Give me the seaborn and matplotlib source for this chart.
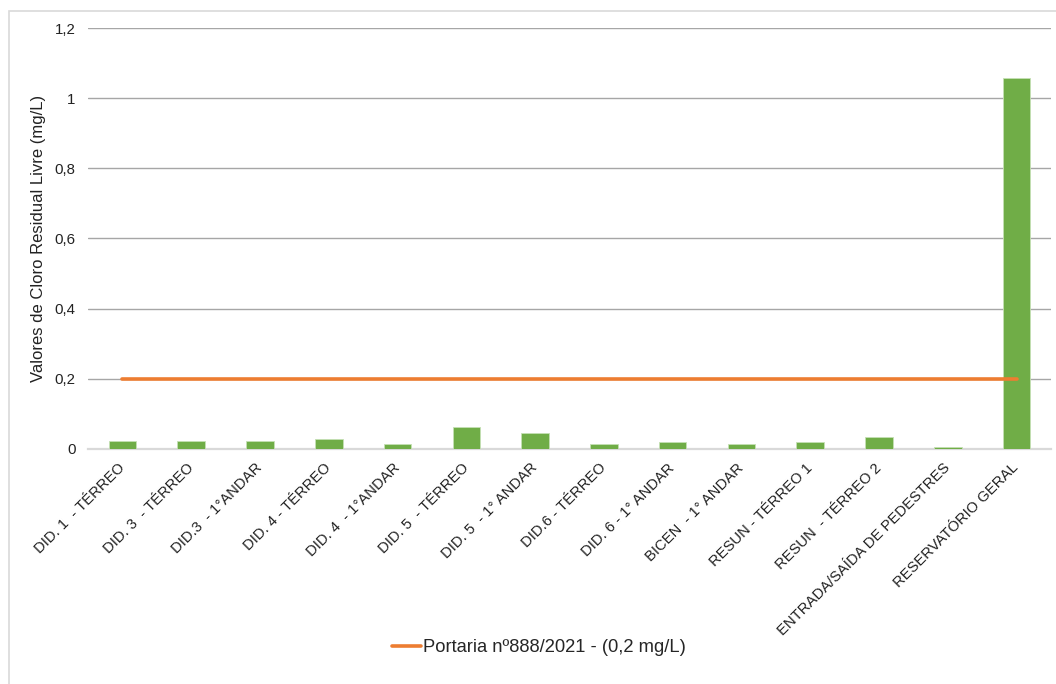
import numpy as np
import pandas as pd
import matplotlib
matplotlib.use("Agg")
import matplotlib.pyplot as plt
import seaborn as sns
from matplotlib.patches import Rectangle
from matplotlib.lines import Line2D

categories = [
    "DID. 1  - TÉRREO",
    "DID. 3  - TÉRREO",
    "DID.3  - 1°ANDAR",
    "DID. 4 - TÉRREO",
    "DID. 4  - 1°ANDAR",
    "DID. 5  - TÉRREO",
    "DID. 5  - 1° ANDAR",
    "DID.6 - TÉRREO",
    "DID. 6 - 1° ANDAR",
    "BICEN  - 1° ANDAR",
    "RESUN - TÉRREO 1",
    "RESUN  - TÉRREO 2",
    "ENTRADA/SAÍDA DE PEDESTRES",
    "RESERVATÓRIO GERAL",
]
cloro = [0.024, 0.024, 0.024, 0.028, 0.013, 0.063, 0.045, 0.013, 0.019, 0.013, 0.019, 0.034, 0.005, 1.057]
limite = [0.2] * len(categories)
legend_label = "Portaria nº888/2021 - (0,2 mg/L)"
y_ticks = [0, 0.2, 0.4, 0.6, 0.8, 1.0, 1.2]
y_tick_labels = ["0", "0,2", "0,4", "0,6", "0,8", "1", "1,2"]

df = pd.DataFrame({"local": categories, "cloro": cloro, "limite": limite})

sns.set_theme(style="white")
plt.rcParams["font.family"] = ["Liberation Sans", "DejaVu Sans"]

W, H = 1056, 684
fig = plt.figure(figsize=(W / 100, H / 100), dpi=100)
ax = fig.add_axes([88 / W, 1 - 449 / H, (1051 - 88) / W, (449 - 28) / H])

sns.barplot(data=df, x="local", y="cloro", color="#70ad47", saturation=1,
            width=0.4, edgecolor="#c5e0b4", linewidth=0.6, ax=ax, zorder=3)
sns.lineplot(x=np.arange(len(categories)), y=df["limite"], color="#ed7d31",
             linewidth=2.6, ax=ax, zorder=4)

ax.set_ylim(0, 1.2)
ax.set_xlim(-0.5, len(categories) - 0.5)
ax.set_yticks(y_ticks)
ax.set_yticklabels(y_tick_labels, fontsize=10.8, color="#222222")
ax.yaxis.grid(True, color="#a6a6a6", linewidth=1.0, zorder=0)
ax.set_axisbelow(True)
for s in ["top", "right", "left"]:
    ax.spines[s].set_visible(False)
ax.spines["bottom"].set_color("#d9d9d9")
ax.spines["bottom"].set_linewidth(1.6)
ax.spines["bottom"].set_zorder(2)
ax.tick_params(axis="both", length=0, pad=9)
ax.set_xlabel("")
ax.set_ylabel("Valores de Cloro Residual Livre (mg/L)", fontsize=12, color="#222222", labelpad=6)

ax.set_xticks(range(len(categories)))
ax.set_xticklabels(categories, rotation=45, ha="right", va="center",
                   rotation_mode="anchor", fontsize=10.6, color="#222222")
ax.tick_params(axis="x", pad=12)

handle = Line2D([0], [0], color="#ed7d31", linewidth=2.6)
fig.legend([handle], [legend_label], loc="center", bbox_to_anchor=(539 / W, 1 - 648 / H),
           frameon=False, fontsize=13.2, handlelength=1.6, handletextpad=0.1)

fig.patches.append(Rectangle((9 / W, -0.1), 1.2, 1 - 11 / H + 0.1, transform=fig.transFigure,
                             fill=False, edgecolor="#d9d9d9", linewidth=1.2, zorder=-1))

fig.savefig("out.png", dpi=100, facecolor="white")
